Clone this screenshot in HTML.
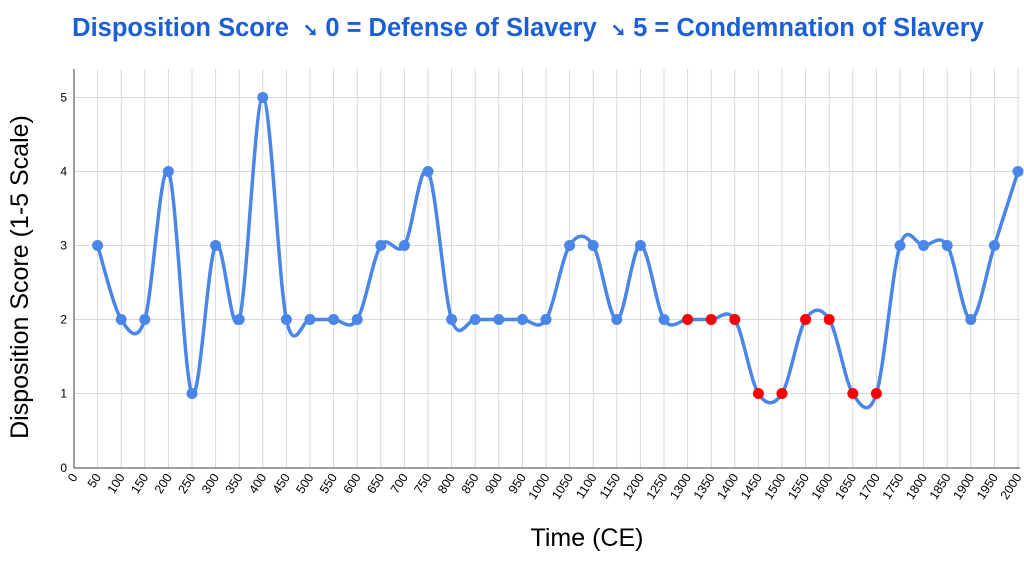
<!DOCTYPE html>
<html><head><meta charset="utf-8"><style>
body{margin:0;background:#fff;width:1024px;height:557px;overflow:hidden;font-family:"Liberation Sans",sans-serif}
</style></head><body>
<svg id="s" width="1024" height="557" xmlns="http://www.w3.org/2000/svg" font-family="Liberation Sans, sans-serif">
<text x="528" y="36" text-anchor="middle" font-size="25.5" font-weight="bold" fill="#1a5fd6" xml:space="preserve">Disposition Score  <tspan font-size="18">➘</tspan> 0 = Defense of Slavery  <tspan font-size="18">➘</tspan> 5 = Condemnation of Slavery</text>
<text transform="translate(28,277) rotate(-90)" text-anchor="middle" font-size="25" fill="#000">Disposition Score (1-5 Scale)</text>
<text x="587" y="546" text-anchor="middle" font-size="25" fill="#000">Time (CE)</text>
<g id="g"></g>
</svg>
<script>
var g=document.getElementById('g'),h='';
var X=function(v){return 74+v*23.6/50},Y=function(v){return 467.5-v*74};
for(var i=1;i<=40;i++){h+='<line x1="'+X(i*50)+'" y1="69" x2="'+X(i*50)+'" y2="467.5" stroke="#d9d9d9" stroke-width="1"/>';}
for(var j=1;j<=5;j++){h+='<line x1="74" y1="'+Y(j)+'" x2="1020" y2="'+Y(j)+'" stroke="#d9d9d9" stroke-width="1"/>';
h+='<text x="67" y="'+(Y(j)+4)+'" text-anchor="end" font-size="12">'+j+'</text>';}
h+='<text x="67" y="472" text-anchor="end" font-size="12">0</text>';
h+='<line x1="74" y1="69" x2="74" y2="468" stroke="#666" stroke-width="1.3"/><line x1="74" y1="468" x2="1020" y2="468" stroke="#666" stroke-width="1.3"/>';
for(var i=0;i<=40;i++){var x=X(i*50);h+='<text transform="translate('+(x+4)+',477) rotate(-57)" text-anchor="end" font-size="12.5">'+(i*50)+'</text>';}
var d=[3,2,2,4,1,3,2,5,2,2,2,2,3,3,4,2,2,2,2,2,3,3,2,3,2,2,2,2,1,1,2,2,1,1,3,3,3,2,3,4];
var P=d.map(function(v,k){return [X((k+1)*50),Y(v)]});
var p='M'+P[0][0]+','+P[0][1];
for(var k=0;k<P.length-1;k++){var a=P[k-1]||P[k],b=P[k],c=P[k+1],e=P[k+2]||c;
var c1=[b[0]+(c[0]-a[0])/6,b[1]+(c[1]-a[1])/6],c2=[c[0]-(e[0]-b[0])/6,c[1]-(e[1]-b[1])/6];
p+=' C'+c1[0]+','+c1[1]+' '+c2[0]+','+c2[1]+' '+c[0]+','+c[1];}
h+='<path d="'+p+'" fill="none" stroke="#4a86e8" stroke-width="3.5"/>';
P.forEach(function(q,k){var yr=(k+1)*50,red=yr>=1300&&yr<=1700;
h+='<circle cx="'+q[0]+'" cy="'+q[1]+'" r="5.5" fill="'+(red?'#ff0000':'#4a86e8')+'"/>';});
g.innerHTML=h;
</script>
</body></html>
